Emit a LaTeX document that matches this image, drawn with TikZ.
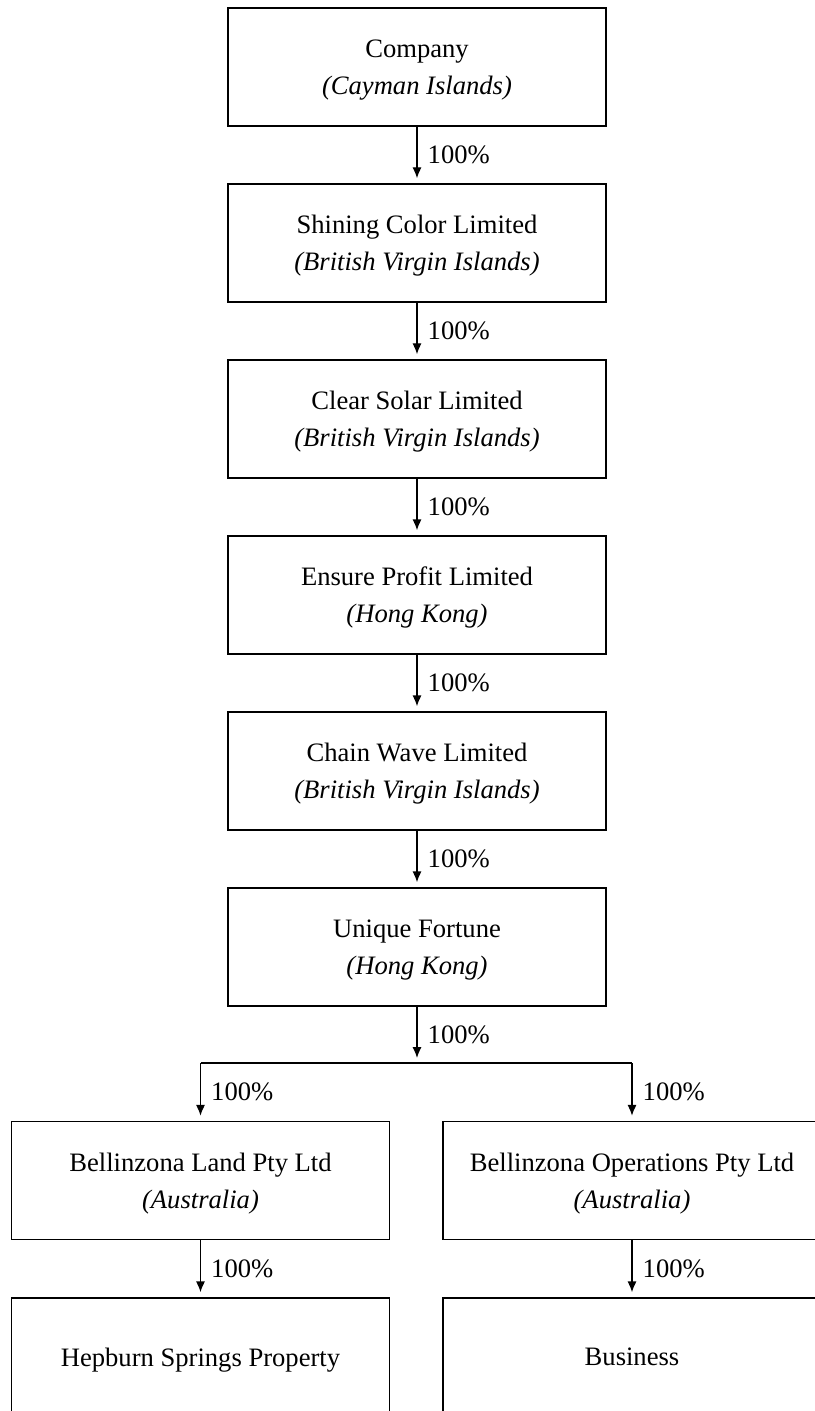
\documentclass[tikz,border=0pt]{standalone}
\usepackage{fontspec}
\setmainfont{Liberation Serif}
\usetikzlibrary{arrows.meta}
\usetikzlibrary{positioning}
\tikzset{entity/.style = {draw, line width=0.7pt, minimum width=189pt,
                          minimum height=59pt, align=center, inner sep=0pt,
                          text depth=0pt},
         owns/.style = {-{Latex[length=5.5pt, width=4.6pt]}, line width=0.7pt,
                        shorten >=2.5pt},
         share/.style = {right, inner sep=5pt}}

\begin{document}
\begin{tikzpicture}[x=0.5pt, y=-0.5pt, font=\fontsize{13.3}{18.5}\selectfont]
      \useasboundingbox (0, 0) rectangle (814, 1411);

      \node [entity] (company) at (417, 67) {Company\\\textit{(Cayman Islands)}};
      \node [entity] (shining) at (417, 243) {Shining Color Limited\\\textit{(British Virgin Islands)}};
      \node [entity] (clear) at (417, 419) {Clear Solar Limited\\\textit{(British Virgin Islands)}};
      \node [entity] (ensure) at (417, 595) {Ensure Profit Limited\\\textit{(Hong Kong)}};
      \node [entity] (chain) at (417, 771) {Chain Wave Limited\\\textit{(British Virgin Islands)}};
      \node [entity] (unique) at (417, 947) {Unique Fortune\\\textit{(Hong Kong)}};

      \node [entity] (land) at (200.5, 1180.5) {Bellinzona Land Pty Ltd\\\textit{(Australia)}};
      \node [entity] (operations) at (632, 1180.5) {Bellinzona Operations Pty Ltd\\\textit{(Australia)}};
      \node [entity] (property) at (200.5, 1357) {Hepburn Springs Property};
      \node [entity] (business) at (632, 1357) {Business};

      \foreach \a/\b in {company/shining, shining/clear, clear/ensure, ensure/chain, chain/unique}
        \draw [owns] (\a) -- (\b) node [midway, share] {100\%};

      \coordinate (split) at (417, 1063);
      \coordinate (splitL) at (200.5, 1063);
      \coordinate (splitR) at (632, 1063);
      \draw [owns] (unique) -- (split) node [midway, share] {100\%};
      \draw [line width=0.7pt] (splitL) -- (splitR);
      \draw [owns] (splitL) -- (land) node [midway, share] {100\%};
      \draw [owns] (splitR) -- (operations) node [midway, share] {100\%};

      \draw [owns] (land) -- (property) node [midway, share] {100\%};
      \draw [owns] (operations) -- (business) node [midway, share] {100\%};

    \end{tikzpicture}
\end{document}
